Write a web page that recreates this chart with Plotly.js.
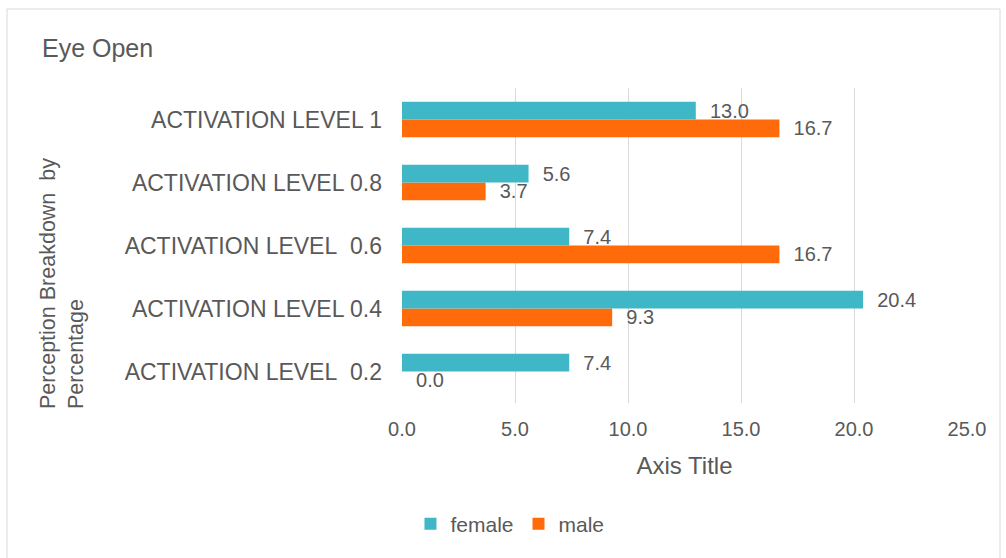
<!DOCTYPE html>
<html>
<head>
<meta charset="utf-8">
<script src="https://cdn.plot.ly/plotly-3.0.1.min.js"></script>
<style>
html,body{margin:0;padding:0;background:#fff;}
#chart{width:1006px;height:558px;}
</style>
</head>
<body>
<div id="chart"></div>
<script>
const categories = [
  'ACTIVATION LEVEL\u00a0\u00a00.2',
  'ACTIVATION LEVEL 0.4',
  'ACTIVATION LEVEL\u00a0\u00a00.6',
  'ACTIVATION LEVEL 0.8',
  'ACTIVATION LEVEL 1'
];
const female = [7.4, 20.4, 7.4, 5.6, 13.0];
const male = [0.0, 9.3, 16.7, 3.7, 16.7];
const xTicks = [0, 5, 10, 15, 20, 25];
const xTickLabels = ['0.0', '5.0', '10.0', '15.0', '20.0', '25.0'];

const FF = 'Liberation Sans, Arial, sans-serif';
const GREY = '#595959';
const L = 402, R = 967, T = 88, B = 403;
const W = R - L, H = B - T;

const traces = [
  {
    type: 'bar', orientation: 'h', name: 'male', y: categories, x: male,
    marker: {color: '#FF6A0A'}, legendrank: 2,
    text: male.map(v => '\u00a0\u00a0' + v.toFixed(1)), textposition: 'outside',
    constraintext: 'none',
    textfont: {family: FF, color: GREY, size: 20},
    cliponaxis: false, hoverinfo: 'x+name'
  },
  {
    type: 'bar', orientation: 'h', name: 'female', y: categories, x: female,
    marker: {color: '#3FB7C6'}, legendrank: 1,
    text: female.map(v => '\u00a0\u00a0' + v.toFixed(1)), textposition: 'outside',
    constraintext: 'none',
    textfont: {family: FF, color: GREY, size: 20},
    cliponaxis: false, hoverinfo: 'x+name'
  }
];

const layout = {
  width: 1006, height: 558,
  margin: {l: L, r: 1006 - R, t: T, b: 558 - B},
  paper_bgcolor: '#fff', plot_bgcolor: '#fff',
  font: {family: FF, color: GREY, size: 20},
  barmode: 'group', bargap: 0.44, bargroupgap: 0,
  showlegend: true,
  legend: {orientation: 'h', x: 0.015, xanchor: 'left', y: (B - 524) / H, yanchor: 'middle',
           font: {family: FF, color: GREY, size: 21}, itemwidth: 30},
  xaxis: {
    range: [0, 25], tickvals: xTicks, ticktext: xTickLabels,
    showgrid: true, gridcolor: '#d9d9d9', gridwidth: 1, zeroline: false,
    showline: false, ticks: '', tickfont: {size: 20, color: GREY},
    ticklabelstandoff: 12,
    title: {text: 'Axis Title', font: {size: 24, color: GREY}, standoff: 18}
  },
  yaxis: {
    categoryorder: 'array', categoryarray: categories,
    showgrid: false, zeroline: false, showline: false, ticks: '',
    ticklabelstandoff: 19, tickfont: {size: 23, color: GREY}
  },
  annotations: [
    {text: 'Eye Open', xref: 'paper', yref: 'paper', x: (40 - L) / W, y: (B - 48) / H,
     xanchor: 'left', yanchor: 'middle', showarrow: false, font: {size: 25, color: GREY}},
    {text: 'Perception Breakdown\u00a0\u00a0by<br>Percentage', xref: 'paper', yref: 'paper',
     x: (62 - L) / W, y: (B - 284) / H, xanchor: 'center', yanchor: 'middle',
     textangle: -90, align: 'left', showarrow: false, font: {size: 21.5, color: GREY}}
  ],
  shapes: [
    {type: 'rect', xref: 'paper', yref: 'paper',
     x0: (7 - L) / W, x1: (1000 - L) / W, y0: -0.6, y1: (B - 9) / H,
     line: {color: '#d9d9d9', width: 1}, fillcolor: 'rgba(0,0,0,0)', layer: 'below'}
  ]
};

Plotly.newPlot('chart', traces, layout, {displayModeBar: false, staticPlot: true});
</script>
</body>
</html>
